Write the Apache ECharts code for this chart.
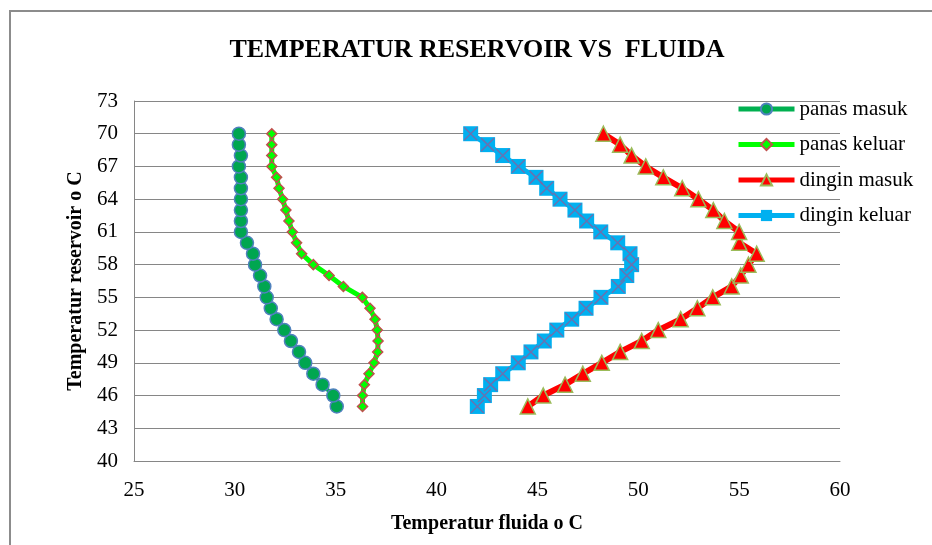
<!DOCTYPE html>
<html>
<head>
<meta charset="utf-8">
<script src="https://cdn.jsdelivr.net/npm/echarts@6/dist/echarts.min.js"></script>
<style>html,body{margin:0;padding:0;background:#fff;}#c{width:932px;height:545px;}</style>
</head>
<body>
<div id="c"></div>
<script>
var reservoirTemp = [45,46,47,48,49,50,51,52,53,54,55,56,57,58,59,60,61,62,63,64,65,66,67,68,69,70];
var panasMasuk  = [35.05,34.88,34.35,33.89,33.49,33.18,32.78,32.45,32.07,31.78,31.58,31.46,31.25,31.0,30.9,30.6,30.3,30.3,30.3,30.3,30.3,30.3,30.2,30.3,30.2,30.2];
var panasKeluar = [36.33,36.33,36.42,36.65,36.9,37.08,37.1,37.06,36.95,36.7,36.32,35.38,34.67,33.89,33.31,33.06,32.85,32.68,32.53,32.37,32.19,32.07,31.83,31.83,31.83,31.83];
var dinginMasuk = [44.52,45.29,46.37,47.25,48.19,49.1,50.17,50.99,52.1,52.93,53.69,54.63,55.08,55.46,55.87,55.01,55.0,54.27,53.72,52.98,52.18,51.24,50.37,49.67,49.1,48.27];
var dinginKeluar= [42.02,42.37,42.68,43.28,44.05,44.68,45.34,45.96,46.7,47.41,48.15,49.01,49.43,49.67,49.59,48.98,48.14,47.44,46.86,46.12,45.46,44.93,44.05,43.28,42.53,41.69];
var seriesNames = ['panas masuk','panas keluar','dingin masuk','dingin keluar'];
var xTicks = {min:25, max:60, interval:5};
var yTicks = {min:40, max:73, interval:3};

function pairs(xs){ return xs.map(function(x,i){ return [x, reservoirTemp[i]]; }); }

var font = 'Liberation Serif, Times New Roman, serif';
var chart = echarts.init(document.getElementById('c'), null, {renderer:'canvas'});
chart.setOption({
  animation:false,
  backgroundColor:'#fff',
  title:{text:'TEMPERATUR RESERVOIR VS  FLUIDA', left:472, top:32, textAlign:'center',
    textStyle:{fontFamily:font, fontSize:26, fontWeight:'bold', color:'#000'}},
  graphic:[{type:'rect', shape:{x:10, y:11, width:960, height:600}, style:{fill:'none', stroke:'#8c8c8c', lineWidth:2}, silent:true}],
  legend:{data:seriesNames.map(function(n){ return {name:n}; }), left:731, top:92, orient:'vertical', itemWidth:56, itemHeight:14, itemGap:11.5,
    lineStyle:{width:5},
    textStyle:{fontFamily:font, fontSize:21, color:'#000', lineHeight:24}},
  grid:{left:134, right:92, top:101, bottom:84, containLabel:false},
  xAxis:{type:'value', min:xTicks.min, max:xTicks.max, interval:xTicks.interval,
    name:'Temperatur fluida o C', nameLocation:'middle', nameGap:53,
    nameTextStyle:{fontFamily:font, fontSize:20, fontWeight:'bold', color:'#000'},
    axisLine:{show:true, lineStyle:{color:'#868686', width:1}}, axisTick:{show:false},
    axisLabel:{fontFamily:font, fontSize:21, color:'#000', margin:19},
    splitLine:{show:false}},
  yAxis:{type:'value', min:yTicks.min, max:yTicks.max, interval:yTicks.interval,
    name:'Temperatur reservoir o C', nameLocation:'middle', nameGap:47, nameRotate:90,
    nameTextStyle:{fontFamily:font, fontSize:20, fontWeight:'bold', color:'#000'},
    axisLine:{show:true, lineStyle:{color:'#868686', width:1}}, axisTick:{show:false},
    axisLabel:{fontFamily:font, fontSize:21, color:'#000', margin:16},
    splitLine:{show:true, lineStyle:{color:'#868686', width:1}}},
  series:[
    {name:seriesNames[0], type:'line', data:pairs(panasMasuk), symbol:'circle', symbolSize:13,
      lineStyle:{color:'#00B050', width:4}, itemStyle:{color:'#00A650', borderColor:'#4F81BD', borderWidth:1.5}},
    {name:seriesNames[1], type:'line', data:pairs(panasKeluar), symbol:'diamond', symbolSize:10,
      lineStyle:{color:'#00FF00', width:5}, itemStyle:{color:'#00FF00', borderColor:'#C0504D', borderWidth:1.5}},
    {name:seriesNames[2], type:'line', data:pairs(dinginMasuk), symbol:'triangle', symbolSize:15,
      lineStyle:{color:'#FF0000', width:6}, itemStyle:{color:'#FF0000', borderColor:'#9BBB59', borderWidth:1.5}},
    {name:seriesNames[3], type:'line', data:pairs(dinginKeluar), symbol:'rect', symbolSize:15,
      lineStyle:{color:'#00B0F0', width:5}, itemStyle:{color:'#00B0F0', borderWidth:0}},
    {name:'dingin keluar x', type:'scatter', data:pairs(dinginKeluar), symbol:'path://M0,0L10,10M10,0L0,10', symbolSize:13,
      itemStyle:{color:'none', borderColor:'#8064A2', borderWidth:1.5}, z:3}
  ]
});
</script>
</body>
</html>
